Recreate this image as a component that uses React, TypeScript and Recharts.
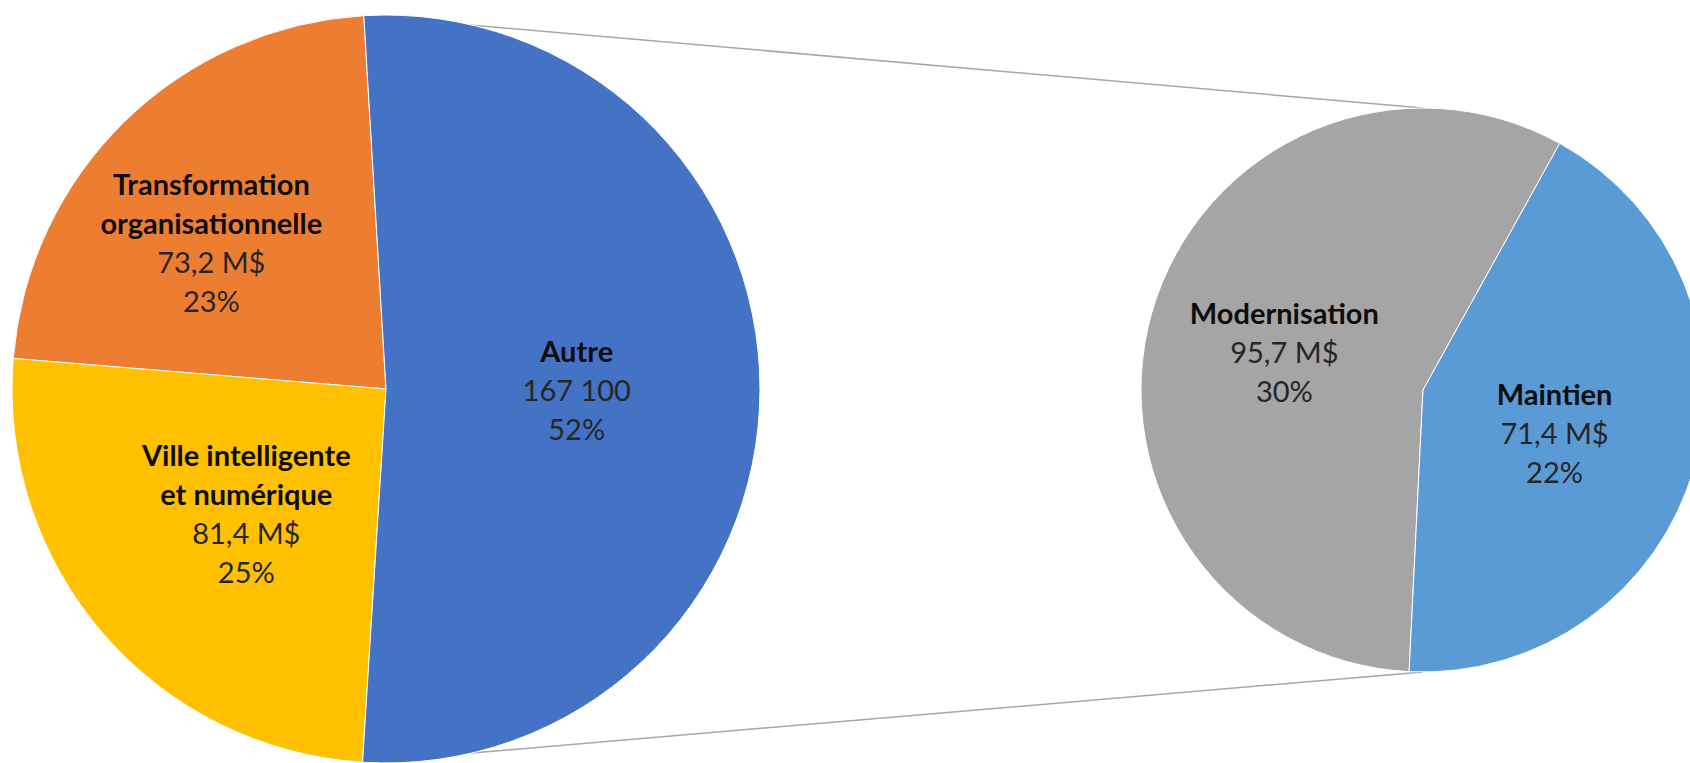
import React from 'react';
import { PieChart, Pie, Cell, Customized } from 'recharts';

// ---------- data ----------
const mainCategories = ['Transformation organisationnelle', 'Ville intelligente et numérique', 'Autre'];
const mainValues = [73.2, 81.4, 167.1];
const mainNameLines = [['Transformation', 'organisationnelle'], ['Ville intelligente', 'et numérique'], ['Autre']];
const mainValueLabels = ['73,2 M$', '81,4 M$', '167 100'];
const mainPercentLabels = ['23%', '25%', '52%'];

const subCategories = ['Modernisation', 'Maintien'];
const subValues = [95.7, 71.4];
const subNameLines = [['Modernisation'], ['Maintien']];
const subValueLabels = ['95,7 M$', '71,4 M$'];
const subPercentLabels = ['30%', '22%'];

// ---------- styles / layout ----------
const W = 1690;
const H = 763;
const MAIN = { cx: 386, cy: 389, r: 374, start: 93.4 };
const SUB = { cx: 1423, cy: 390, r: 282, start: 61 };
const mainColors = ['#ED7D31', '#FFC000', '#4472C4'];
const subColors = ['#A5A5A5', '#5B9BD5'];
const mainLabelPos = [
  { f: 0.61, da: 5.6 },
  { f: 0.5, da: 0.8 },
  { f: 0.51, da: 0 },
];
const subLabelPos = [
  { f: 0.51, da: 0.5 },
  { f: 0.49, da: -1.9 },
];
const FONT = 'Lato, "Open Sans", sans-serif';
const FS = 29;
const LH = 39;
const RAD = Math.PI / 180;

const mainData = mainCategories.map((name, i) => ({ name, value: mainValues[i] }));
const subData = subCategories.map((name, i) => ({ name, value: subValues[i] }));

const polar = (cx: number, cy: number, r: number, a: number) => ({
  x: cx + r * Math.cos(-a * RAD),
  y: cy + r * Math.sin(-a * RAD),
});

const makeLabel = (
  nameLines: string[][],
  valueLabels: string[],
  pctLabels: string[],
  pos: { f: number; da: number }[],
  geo: { cx: number; cy: number; r: number }
) => (props: any) => {
  const { index, midAngle } = props;
  const p = pos[index];
  const pt = polar(geo.cx, geo.cy, geo.r * p.f, midAngle + p.da);
  const lines = [
    ...nameLines[index].map((t) => ({ t, bold: true })),
    { t: valueLabels[index], bold: false },
    { t: pctLabels[index], bold: false },
  ];
  const n = lines.length;
  return (
    <g key={`lbl-${index}`}>
      {lines.map((l, i) => (
        <text
          key={i}
          x={pt.x}
          y={pt.y + (i - (n - 1) / 2) * LH}
          textAnchor="middle"
          dominantBaseline="central"
          fontFamily={FONT}
          fontSize={FS}
          fontWeight={l.bold ? 700 : 400}
          fill={l.bold ? '#0d0d0d' : '#262626'}
        >
          {l.t}
        </text>
      ))}
    </g>
  );
};

const total = (arr: number[]) => arr.reduce((a, b) => a + b, 0);

const Connectors = () => {
  const mt = total(mainValues);
  const splitStart = MAIN.start;
  const splitEnd = MAIN.start + ((mainValues[0] + mainValues[1]) / mt) * 360;
  const a1 = polar(MAIN.cx, MAIN.cy, MAIN.r, splitStart);
  const a2 = polar(MAIN.cx, MAIN.cy, MAIN.r, splitEnd);
  const b1 = polar(SUB.cx, SUB.cy, SUB.r, 90);
  const b2 = polar(SUB.cx, SUB.cy, SUB.r, 270);
  return (
    <g>
      <line x1={a1.x} y1={a1.y} x2={b1.x} y2={b1.y} stroke="#A6A6A6" strokeWidth={1.5} />
      <line x1={a2.x} y1={a2.y} x2={b2.x} y2={b2.y} stroke="#A6A6A6" strokeWidth={1.5} />
    </g>
  );
};

export default function App() {
  return (
    <div style={{ position: 'absolute', left: 0, top: 0, width: W, height: H, background: '#fff' }}>
      <PieChart width={W} height={H} margin={{ top: 0, right: 0, bottom: 0, left: 0 }}>
        <Customized component={Connectors} />
        <Pie
          data={mainData}
          dataKey="value"
          nameKey="name"
          cx={MAIN.cx}
          cy={MAIN.cy}
          outerRadius={MAIN.r}
          startAngle={MAIN.start}
          endAngle={MAIN.start + 360}
          stroke="#fff"
          strokeWidth={1}
          isAnimationActive={false}
          labelLine={false}
          label={makeLabel(mainNameLines, mainValueLabels, mainPercentLabels, mainLabelPos, MAIN)}
        >
          {mainData.map((d, i) => (
            <Cell key={d.name} fill={mainColors[i]} />
          ))}
        </Pie>
        <Pie
          data={subData}
          dataKey="value"
          nameKey="name"
          cx={SUB.cx}
          cy={SUB.cy}
          outerRadius={SUB.r}
          startAngle={SUB.start}
          endAngle={SUB.start + 360}
          stroke="#fff"
          strokeWidth={1}
          isAnimationActive={false}
          labelLine={false}
          label={makeLabel(subNameLines, subValueLabels, subPercentLabels, subLabelPos, SUB)}
        >
          {subData.map((d, i) => (
            <Cell key={d.name} fill={subColors[i]} />
          ))}
        </Pie>
      </PieChart>
    </div>
  );
}
